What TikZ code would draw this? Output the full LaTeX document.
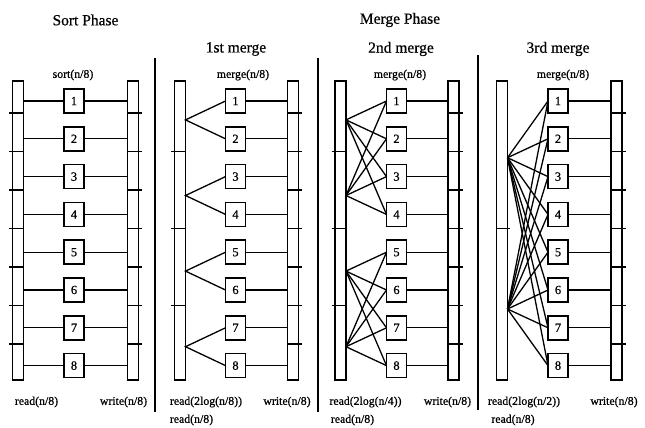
\documentclass[tikz,border=0pt]{standalone}
\usepackage{fontspec}
\setmainfont[FakeBold=0.6]{Liberation Serif}
\begin{document}
\begin{tikzpicture}[x=1bp,y=-1bp,
  bar/.style={draw,line width=1.4bp,minimum width=11bp,minimum height=299bp,inner sep=0pt,outer sep=0pt},
  tick/.style={line width=1.4bp},
  box/.style={draw,fill=white,line width=1.6bp,minimum width=20bp,minimum height=24bp,inner sep=0pt,outer sep=0pt,
    font=\fontsize{12.5bp}{12bp}\selectfont},
  wire/.style={line width=1.3bp},
  sep/.style={line width=2.6bp},
  title/.style={font=\fontsize{15.5bp}{16bp}\selectfont},
  lab/.style={font=\fontsize{11.8bp}{12bp}\selectfont,inner sep=0pt}]
\useasboundingbox (0,0) rectangle (645,427);

% headings
\node[title] (tsort) at (85.5,20) {Sort Phase};
\node[title] (tmerge) at (400,20) {Merge Phase};
\node[title] (t1) at (236,49) {1st merge};
\node[title] (t2) at (401,49) {2nd merge};
\node[title] (t3) at (558,49) {3rd merge};

\node[lab] (op1) at (73,75) {sort(n/8)};
\node[lab] (op2) at (243,75) {merge(n/8)};
\node[lab] (op3) at (400,75) {merge(n/8)};
\node[lab] (op4) at (563,75) {merge(n/8)};

% panel separators
\draw[sep] (155,58) -- (155,412);
\draw[sep] (318,58) -- (318,412);
\draw[sep] (478,55) -- (478,410);

% bars, boxes and write-side wires
\foreach \p/\lx/\bx/\rx in {1/18/74/133, 2/180/235.5/293, 3/340.5/396.5/453.5, 4/502/558/616.5} {
  \node[bar] (l\p) at (\lx,230.5) {};
  \node[bar] (r\p) at (\rx,230.5) {};
  \foreach \k in {0,...,6}
    \draw[tick] ({\rx-5.5},{113+38.5*\k}) -- ({\rx+9},{113+38.5*\k});
  \foreach \i in {1,...,8} {
    \node[box] (b\p-\i) at (\bx,{101+37.8*(\i-1)}) {\i};
    \draw[wire] (b\p-\i.east) -- (b\p-\i.east -| r\p.west);
  }
}

% left-bar divisions
\foreach \k in {0,...,6}
  \draw[tick] (9,{113+38.5*\k}) -- (23.5,{113+38.5*\k});
\foreach \k in {1,3,5} {
  \draw[tick] (171,{113+38.5*\k}) -- (185.5,{113+38.5*\k});
  \draw[tick] (331.5,{113+38.5*\k}) -- (346,{113+38.5*\k});
}
\draw[tick] (496.5,228.5) -- (510,228.5);

% sort phase: one run per box
\foreach \i in {1,...,8}
  \draw[wire] (l1.east |- b1-\i.west) -- (b1-\i.west);

% 1st merge: pairs
\foreach \j in {1,...,4} {
  \coordinate (a2-\j) at (185.5,{101+37.8*(2*\j-1.5)});
  \pgfmathtruncatemacro{\ia}{2*\j-1}
  \pgfmathtruncatemacro{\ib}{2*\j}
  \draw[wire] (b2-\ia.west) -- (a2-\j) -- (b2-\ib.west);
}

% 2nd merge: groups of four
\foreach \j in {1,...,4}
  \coordinate (a3-\j) at (346,{101+37.8*(2*\j-1.5)});
\foreach \g in {1,2} {
  \pgfmathtruncatemacro{\ja}{2*\g-1}
  \pgfmathtruncatemacro{\jb}{2*\g}
  \foreach \m in {0,...,3} {
    \pgfmathtruncatemacro{\i}{4*\g-3+\m}
    \draw[wire] (a3-\ja) -- (b3-\i.west);
    \draw[wire] (a3-\jb) -- (b3-\i.west);
  }
}

% 3rd merge: all eight
\coordinate (a4-1) at (507.5,157.7);
\coordinate (a4-2) at (507.5,309);
\foreach \i in {1,...,8} {
  \draw[wire] (a4-1) -- (b4-\i.west);
  \draw[wire] (a4-2) -- (b4-\i.west);
}

% redraw box outlines on top of the wires
\foreach \p in {1,...,4}
  \foreach \i in {1,...,8}
    \draw[line width=1.6bp] (b\p-\i.south west) rectangle (b\p-\i.north east);

% I/O labels
\node[lab] (rd1) at (36.5,402) {read(n/8)};
\node[lab] (wr1) at (123.5,402) {write(n/8)};
\node[lab] (rd2) at (206,402) {read(2log(n/8))};
\node[lab] (wr2) at (287,402) {write(n/8)};
\node[lab] (rs2) at (191.5,420) {read(n/8)};
\node[lab] (rd3) at (365.5,402) {read(2log(n/4))};
\node[lab] (wr3) at (447.5,402) {write(n/8)};
\node[lab] (rs3) at (352.5,420) {read(n/8)};
\node[lab] (rd4) at (524,402) {read(2log(n/2))};
\node[lab] (wr4) at (614,402) {write(n/8)};
\node[lab] (rs4) at (513,420) {read(n/8)};
\end{tikzpicture}
\end{document}
